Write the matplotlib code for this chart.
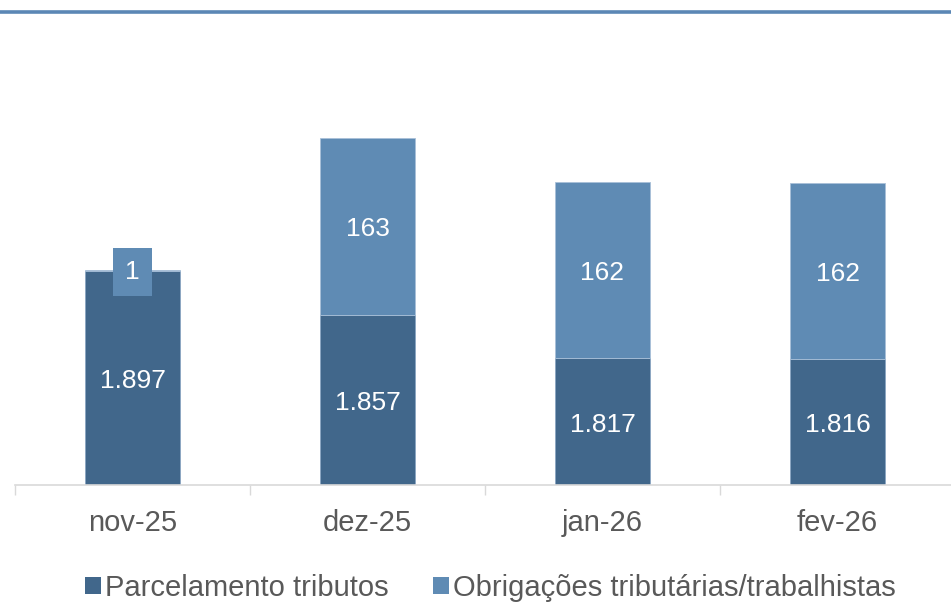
import matplotlib
matplotlib.use("Agg")
import matplotlib.pyplot as plt
from matplotlib.lines import Line2D
import matplotlib.transforms as mtransforms
import numpy as np

plt.rcParams['font.family'] = ['Liberation Sans', 'DejaVu Sans']

categories = ["nov-25", "dez-25", "jan-26", "fev-26"]
parcelamento = [1897, 1857, 1817, 1816]
obrigacoes = [1, 163, 162, 162]
series_names = ["Parcelamento tributos", "Obrigações tributárias/trabalhistas"]

dark = "#41678B"
light = "#5F8BB4"
text_grey = "#595959"

fig = plt.figure(figsize=(9.51, 6.04), dpi=100)
ax = fig.add_axes([15/951, (604-485)/604, 940/951, 434/604])

x = np.arange(len(categories))
ymin = 1700
w = 0.404
b1 = ax.bar(x, np.array(parcelamento) - ymin, width=w, bottom=ymin, color=dark,
            edgecolor="#8aa6c2", linewidth=0.6, label=series_names[0])
b2 = ax.bar(x, obrigacoes, width=w, bottom=parcelamento, color=light,
            edgecolor="#a9c0d8", linewidth=0.6, label=series_names[1])

def fmt(v):
    return f"{v:,}".replace(",", ".")

tr = mtransforms.offset_copy(ax.transData, fig=fig, y=-3, units="dots")
for i in range(len(categories)):
    ax.text(x[i], (ymin + parcelamento[i]) / 2, fmt(parcelamento[i]), ha="center", va="center",
            color="white", fontsize=19, transform=tr)
    yc = parcelamento[i] + obrigacoes[i] / 2
    if obrigacoes[i] < 20:
        ax.text(x[i], yc, fmt(obrigacoes[i]), ha="center", va="center", color="white", fontsize=19,
                transform=mtransforms.offset_copy(ax.transData, fig=fig, y=-1, units="dots"),
                bbox=dict(boxstyle="square,pad=0.46", facecolor=light, edgecolor="none"))
    else:
        ax.text(x[i], yc, fmt(obrigacoes[i]), ha="center", va="center", color="white", fontsize=19,
                transform=tr)

ax.set_xlim(-0.5, len(categories) - 0.5)
ax.set_ylim(ymin, 2100)
ax.set_yticks([])
ax.set_xticks(x)
ax.set_xticklabels(categories, fontsize=21, color=text_grey)
ax.tick_params(axis="x", which="major", length=0, pad=17)
ax.set_xticks(np.arange(-0.5, len(categories), 1.0), minor=True)
ax.tick_params(axis="x", which="minor", length=7, width=1, color="#d9d9d9", direction="out")
for s in ["top", "right", "left"]:
    ax.spines[s].set_visible(False)
ax.spines["bottom"].set_color("#d9d9d9")
ax.spines["bottom"].set_linewidth(1.2)

leg = fig.legend(handles=[b1, b2], labels=series_names, loc="center",
                 bbox_to_anchor=(0.5 + 15/951, 1 - 588/604),
                 ncol=2, frameon=False, fontsize=21, handlelength=0.55, handleheight=0.55,
                 handletextpad=0.15, columnspacing=1.5, labelcolor=text_grey)
for h in leg.legend_handles:
    h.set_edgecolor("none")

fig.add_artist(Line2D([0, 1], [1 - 12/604, 1 - 12/604], transform=fig.transFigure,
                      color="#5B87B5", linewidth=2.6))

fig.savefig("out.png", dpi=100)
